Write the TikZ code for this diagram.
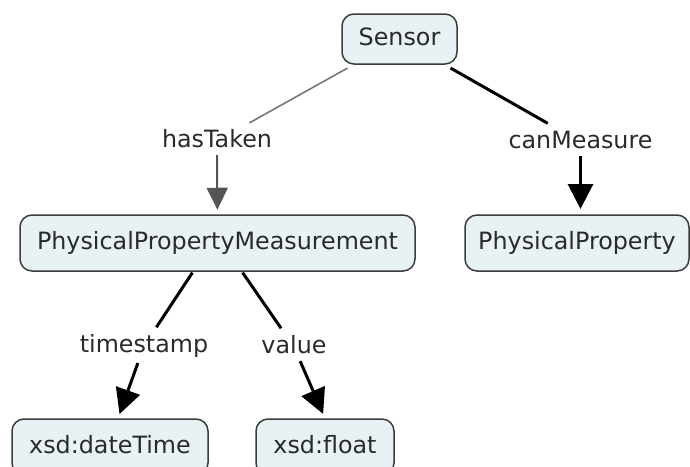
\documentclass[tikz,border=0pt]{standalone}
\usepackage{fontspec}
\setmainfont{DejaVu Sans}
\usetikzlibrary{arrows.meta}
\definecolor{boxfill}{HTML}{E8F1F4}
\definecolor{boxline}{HTML}{3C3C3C}
\definecolor{txt}{HTML}{2A2A2A}
\definecolor{grayline}{HTML}{767676}
\definecolor{grayarrow}{HTML}{555555}
\begin{document}
\begin{tikzpicture}[x=1pt,y=-1pt,
  every node/.style={font=\fontsize{23.8}{28}\selectfont, text=txt, text height=17.5pt, text depth=5.5pt},
  concept/.style={draw=boxline, line width=1.5pt, fill=boxfill, rounded corners=12pt, inner sep=0pt, minimum height=56pt},
  linklabel/.style={inner xsep=2pt, inner ysep=2.5pt},
  blackline/.style={draw=black, line width=3pt},
  blackarrow/.style={draw=black, line width=3pt, -{Triangle[length=25pt,width=25pt]}, shorten >=5pt},
  grayplain/.style={draw=grayline, line width=1.6pt},
  grayarr/.style={draw=grayarrow, line width=2pt, -{Triangle[length=22pt,width=21pt]}, shorten >=4.5pt},
]
\useasboundingbox (0,0) rectangle (690,466);
\clip (0,0) rectangle (690,466);

\node[concept, minimum width=115pt, minimum height=50pt] (sensor) at (399.5,39) {Sensor};
\node[concept, minimum width=395pt] (ppm) at (217.5,243) {PhysicalPropertyMeasurement};
\node[concept, minimum width=224pt] (pp) at (577,243) {PhysicalProperty};
\node[concept, minimum width=196pt] (dt) at (110,447) {xsd:dateTime};
\node[concept, minimum width=138pt] (fl) at (325,447) {xsd:float};

\node[linklabel] (hastaken) at (217,141) {hasTaken};
\node[linklabel] (canmeasure) at (580.5,142) {canMeasure};
\node[linklabel] (timestamp) at (144,346) {timestamp};
\node[linklabel] (value) at (294,347) {value};

\draw[grayplain, shorten <=6.7pt, shorten >=8pt] (sensor) -- (hastaken);
\draw[grayarr] (hastaken) -- (ppm);

\draw[blackline, shorten <=6.7pt, shorten >=9pt] (sensor) -- (canmeasure);
\draw[blackarrow, shorten >=5.25pt] (canmeasure) -- (canmeasure |- pp.north);

\draw[blackline, shorten <=1pt, shorten >=5.5pt] ([xshift=-24.5pt]ppm.south) -- (timestamp);
\draw[blackline, shorten <=1pt, shorten >=5.5pt] ([xshift=24.5pt]ppm.south) -- (value);

\draw[blackarrow, shorten <=3pt, shorten >=4.5pt] (timestamp) -- ([xshift=8pt]dt.north);
\draw[blackarrow, shorten >=4.7pt] (value) -- (fl.north);
\end{tikzpicture}
\end{document}
